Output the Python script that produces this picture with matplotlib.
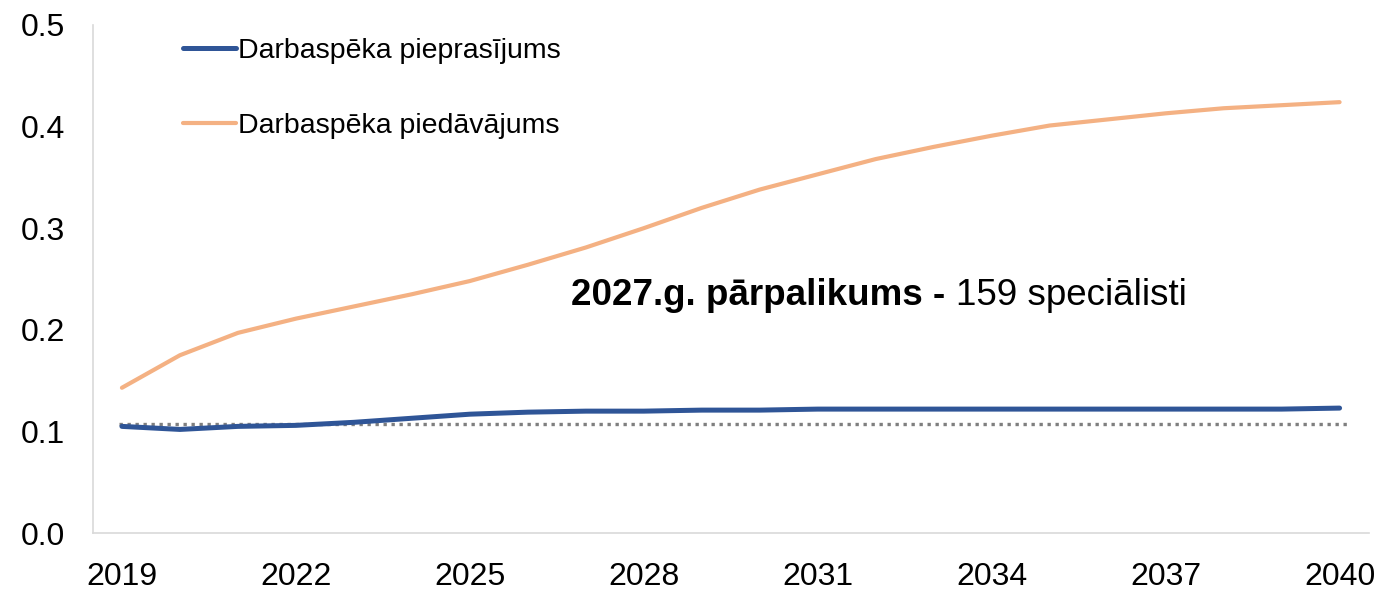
import numpy as np
import matplotlib
matplotlib.use("Agg")
import matplotlib.pyplot as plt

years = list(range(2019, 2041))
demand = [0.105, 0.102, 0.105, 0.106, 0.109, 0.113, 0.117, 0.119, 0.120, 0.120,
          0.121, 0.121, 0.122, 0.122, 0.122, 0.122, 0.122, 0.122, 0.122, 0.122,
          0.122, 0.123]
supply = [0.143, 0.175, 0.197, 0.211, 0.223, 0.235, 0.248, 0.264, 0.281, 0.300,
          0.320, 0.338, 0.353, 0.368, 0.380, 0.391, 0.401, 0.407, 0.413, 0.418,
          0.421, 0.424]
baseline = 0.107
xticks = [2019, 2022, 2025, 2028, 2031, 2034, 2037, 2040]
yticks = [0.0, 0.1, 0.2, 0.3, 0.4, 0.5]

plt.rcParams["font.family"] = ["Liberation Sans", "DejaVu Sans"]

fig = plt.figure(figsize=(13.81, 5.93), dpi=100)
ax = fig.add_axes([0.0673, 0.101, 0.9237, 0.857])

ax.plot([2018.95, 2040.17], [baseline, baseline], color="#7f7f7f", lw=2.4,
        linestyle=(0, (1, 1.4)), zorder=1)
ax.plot(years, demand, color="#2f5597", lw=3.6, solid_capstyle="round",
        label="Darbaspēka pieprasījums", zorder=3)
ax.plot(years, supply, color="#f4b183", lw=3.0, solid_capstyle="round",
        label="Darbaspēka piedāvājums", zorder=2)

ax.set_xlim(2018.5, 2040.5)
ax.set_ylim(0, 0.5)
ax.set_xticks(xticks)
ax.set_yticks(yticks)
ax.set_yticklabels([f"{v:.1f}" for v in yticks])
ax.tick_params(length=0, labelsize=23, colors="black")
ax.tick_params(axis="x", pad=21)
ax.tick_params(axis="y", pad=20)

for s in ["top", "right"]:
    ax.spines[s].set_visible(False)
for s in ["left", "bottom"]:
    ax.spines[s].set_color("#d9d9d9")
    ax.spines[s].set_linewidth(1.2)

ax.legend(loc="upper left", bbox_to_anchor=(0.0705, 0.974), frameon=False,
          fontsize=20.5, handlelength=1.85, handletextpad=0.1, labelspacing=1.72,
          borderpad=0, borderaxespad=0)

ax.text(2026.75, 0.224, "2027.g. pārpalikums - ", fontsize=26.5, fontweight="bold",
        ha="left", va="baseline")
ax.annotate("159 speciālisti", xy=(1, 0), xycoords=ax.texts[-1],
            fontsize=26.5, ha="left", va="bottom")

fig.savefig("out.png", dpi=100)
